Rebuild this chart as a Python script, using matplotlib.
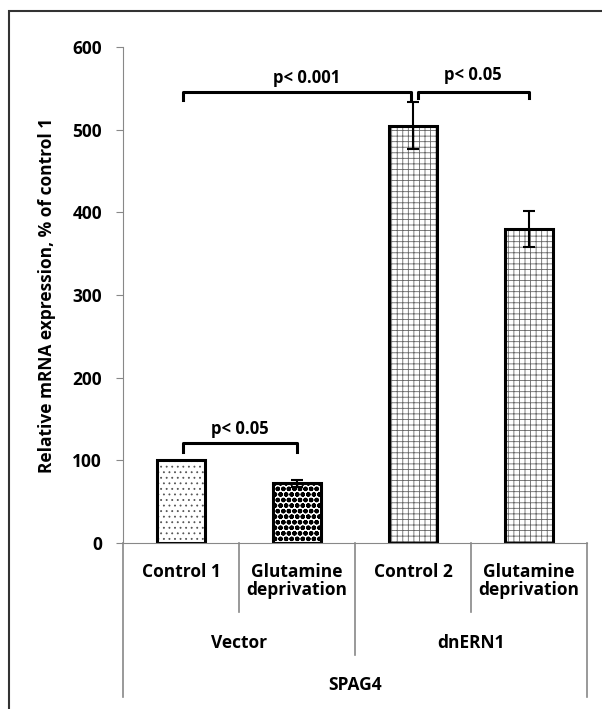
import matplotlib.pyplot as plt
import matplotlib.patches as mpatches

plt.rcParams['font.family'] = ['Open Sans', 'DejaVu Sans']
plt.rcParams['font.weight'] = 'bold'
plt.rcParams['axes.labelweight'] = 'bold'
plt.rcParams['hatch.linewidth'] = 0.6

conditions = ['Control 1', 'Glutamine\ndeprivation', 'Control 2', 'Glutamine\ndeprivation']
groups = ['Vector', 'dnERN1']
gene = 'SPAG4'
values = [100, 72, 505, 380]
errors = [0, 4, 28, 22]
hatches = ['...', 'ooo...', '+++', '+++']
hatch_colors = ['#555555', 'black', '#666666', '#666666']
yticks = [0, 100, 200, 300, 400, 500, 600]

fig = plt.figure(figsize=(6.02, 7.09), dpi=100)
ax = fig.add_axes([0.2043, 0.2342, 0.7707, 0.6995])

x = list(range(len(values)))
# hatch layer, then black outline on top
fills = ax.bar(x, values, width=0.42, color='white', linewidth=0)
for b, h, c in zip(fills, hatches, hatch_colors):
    b.set_hatch(h)
    b.set_edgecolor(c)
    if 'o' in h and hasattr(b, 'set_hatch_linewidth'):
        b.set_hatch_linewidth(1.6)
ax.bar(x, values, width=0.42, color='none', edgecolor='black', linewidth=2.2)
ax.errorbar(x[1:], values[1:], yerr=errors[1:], fmt='none', ecolor='black',
            elinewidth=1.5, capsize=4, capthick=1.5)

ax.set_xlim(-0.5, 3.5)
ax.set_ylim(0, 600)
ax.set_yticks(yticks)
ax.tick_params(axis='y', length=5, color='#888888', labelsize=12.5, pad=10)
ax.set_xticks([])
for s in ['top', 'right']:
    ax.spines[s].set_visible(False)
ax.spines['left'].set_color('#888888')
ax.spines['bottom'].set_color('#888888')
ax.set_ylabel('Relative mRNA expression, % of control 1', fontsize=12.5, labelpad=12)

# significance brackets
def bracket(x0, x1, y, drop, label, ty, dx=0):
    ax.plot([x0, x0, x1, x1], [y - drop, y, y, y - drop], color='black', lw=2.2, clip_on=False)
    ax.text((x0 + x1) / 2 + dx, ty, label, ha='center', va='center', fontsize=12)

bracket(0.02, 1.0, 121, 11, 'p< 0.05', 138)
bracket(0.02, 1.98, 545, 9, 'p< 0.001', 563, dx=0.08)
bracket(2.04, 3.0, 545, 7, 'p< 0.05', 566)

# multi-level category table
tr = ax.get_xaxis_transform()
for xd, yb in [(-0.5, -0.31), (0.5, -0.139), (1.5, -0.226), (2.5, -0.139), (3.5, -0.31)]:
    ax.plot([xd, xd], [0, yb], color='#888888', lw=1.2, transform=tr, clip_on=False)

for xi, lab in zip(x, conditions):
    ax.text(xi, -0.04, lab, ha='center', va='top', fontsize=12.5, transform=tr,
            linespacing=1.0)
for gi, lab in enumerate(groups):
    ax.text(0.5 + 2 * gi, -0.202, lab, ha='center', va='center', fontsize=12.5, transform=tr)
ax.text(1.5, -0.286, gene, ha='center', va='center', fontsize=12.5, transform=tr)

# outer frame
fig.patches.append(mpatches.Rectangle((9 / 602, -0.1), 1.2, 1.1 - 11 / 709,
                                      transform=fig.transFigure, fill=False,
                                      edgecolor='#333333', lw=1.5))

fig.savefig('out.png', dpi=100)
